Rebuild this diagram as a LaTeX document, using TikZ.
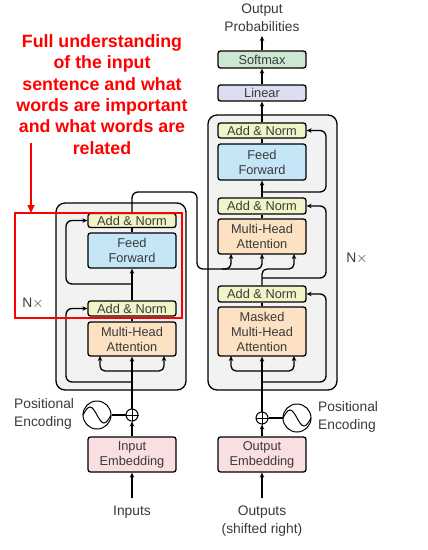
\documentclass[tikz,border=0pt]{standalone}
\usepackage{fontspec}
\setmainfont{Liberation Sans}
\usetikzlibrary{arrows.meta}
\definecolor{txt}{HTML}{3A3A3A}
\definecolor{addc}{HTML}{F1F4C6}
\definecolor{ffc}{HTML}{C5E6F6}
\definecolor{attc}{HTML}{FCE1C2}
\definecolor{linc}{HTML}{DCDDF1}
\definecolor{softc}{HTML}{CCE8D2}
\definecolor{embc}{HTML}{FADFE2}
\definecolor{layc}{HTML}{F2F2F2}
\definecolor{annred}{HTML}{FF0000}
\tikzset{
  blk/.style={draw=black, line width=1.3pt, rounded corners=2.5pt, minimum width=88pt,
    inner sep=0pt, align=center, text=txt, font=\fontsize{12.8}{15}\selectfont},
  lay/.style={draw=black, line width=1.3pt, rounded corners=9pt, fill=layc},
  conn/.style={line width=1.3pt, draw=black},
  arr/.style={conn, -{Stealth[length=5pt,width=4.5pt]}},
  lbl/.style={text=txt, font=\fontsize{13.8}{17.5}\selectfont, inner sep=0pt},
  plusc/.style={draw=black, line width=1pt, circle, minimum size=12pt, inner sep=0pt},
  sinc/.style={draw=black, line width=1pt, circle, minimum size=28pt, inner sep=0pt},
  redtxt/.style={font=\fontsize{17.8}{21.3}\selectfont\bfseries, align=center, inner sep=0pt}
}
\begin{document}
\begin{tikzpicture}[x=1pt,y=-1pt]
\useasboundingbox (0,0) rectangle (428,550);
\fill[white] (0,0) rectangle (428,550);

% layer boxes
\draw[lay] (56,203) rectangle (186,390);
\draw[lay] (208,115) rectangle (337,390);

% ---------- encoder ----------
\node[blk, fill=addc, minimum height=14pt] (eaddT) at (132,220.5) {Add \& Norm};
\node[blk, fill=ffc, minimum height=35pt] (eff) at (132,250.5) {Feed\\Forward};
\node[blk, fill=addc, minimum height=15pt] (eaddB) at (132,308.5) {Add \& Norm};
\node[blk, fill=attc, minimum height=34pt] (emha) at (132,339) {Multi-Head\\Attention};
\node[blk, fill=embc, minimum height=35pt] (ein) at (132,454.5) {Input\\Embedding};
\node[plusc] (eplus) at (132,415) {};
\draw[line width=1pt] (eplus.north) -- (eplus.south) (eplus.west) -- (eplus.east);
\node[sinc] (esin) at (97,415) {};
\draw[line width=1pt] (83,415) sin (90,407) cos (97,415) sin (104,423) cos (111,415);
\draw[conn] (esin.east) -- (eplus.west);
\node[lbl, anchor=west, align=left] (epos) at (14,414) {Positional\\Encoding};
\node[lbl] (einp) at (132,512) {Inputs};
\node[lbl] (enx) at (33,303) {N$\times$};

\coordinate (einpt) at (132,498);
\draw[arr] (einpt) -- (ein.south);
\draw[arr] (ein.north) -- (eplus.south);
\coordinate (eq) at (100,356);
\coordinate (ev) at (164,356);
\draw[arr] (eplus.north) -- (emha.south);
\draw[arr, rounded corners=5pt] (132,371) -- (100,371) -- (eq);
\draw[arr, rounded corners=5pt] (132,371) -- (164,371) -- (ev);
\draw[arr, rounded corners=6pt] (132,382) -- (66,382) -- (66,308.5) -- (eaddB.west);
\draw[conn] (emha.north) -- (eaddB.south);
\draw[arr] (eaddB.north) -- (eff.south);
\draw[arr, rounded corners=6pt] (132,284) -- (66,284) -- (66,220.5) -- (eaddT.west);
\draw[conn] (eff.north) -- (eaddT.south);

% ---------- decoder ----------
\node[blk, fill=softc, minimum height=17pt] (soft) at (262,59.5) {Softmax};
\node[blk, fill=linc, minimum height=16pt] (lin) at (262,93) {Linear};
\node[blk, fill=addc, minimum height=15pt] (daddT) at (262,130.5) {Add \& Norm};
\node[blk, fill=ffc, minimum height=36pt] (dff) at (262,162) {Feed\\Forward};
\node[blk, fill=addc, minimum height=16pt] (daddM) at (262,206) {Add \& Norm};
\node[blk, fill=attc, minimum height=35pt] (dmha) at (262,236.5) {Multi-Head\\Attention};
\node[blk, fill=addc, minimum height=16pt] (daddB) at (262,294) {Add \& Norm};
\node[blk, fill=attc, minimum height=49pt] (dmmha) at (262,331.5) {Masked\\Multi-Head\\Attention};
\node[blk, fill=embc, minimum height=35pt] (dout) at (262,454.5) {Output\\Embedding};
\node[plusc] (dplus) at (262,418) {};
\draw[line width=1pt] (dplus.north) -- (dplus.south) (dplus.west) -- (dplus.east);
\node[sinc] (dsin) at (297,418) {};
\draw[line width=1pt] (283,418) sin (290,410) cos (297,418) sin (304,426) cos (311,418);
\draw[conn] (dplus.east) -- (dsin.west);
\node[lbl, anchor=west, align=left] (dpos) at (318,417) {Positional\\Encoding};
\node[lbl, align=center] (doutl) at (262,521) {Outputs\\(shifted right)};
\node[lbl, align=center] (dprob) at (262,17.5) {Output\\Probabilities};
\node[lbl] (dnx) at (357,258) {N$\times$};

\coordinate (doutpt) at (262,498);
\draw[arr] (doutpt) -- (dout.south);
\draw[arr] (dout.north) -- (dplus.south);
\draw[arr] (dplus.north) -- (dmmha.south);
\coordinate (dmq) at (231,356);
\coordinate (dmv) at (294,356);
\draw[arr, rounded corners=5pt] (262,371) -- (231,371) -- (dmq);
\draw[arr, rounded corners=5pt] (262,371) -- (294,371) -- (dmv);
\draw[arr, rounded corners=6pt] (262,382) -- (326,382) -- (326,294) -- (daddB.east);
\draw[conn] (dmmha.north) -- (daddB.south);
\coordinate (dk) at (231,254);
\coordinate (dv) at (262,254);
\coordinate (dq) at (294,254);
\draw[arr, rounded corners=5pt] (daddB.north) -- (262,269) -- (294,269) -- (dq);
\draw[arr, rounded corners=6pt] (262,278) -- (326,278) -- (326,206) -- (daddM.east);
\draw[conn] (dmha.north) -- (daddM.south);
\draw[arr] (daddM.north) -- (dff.south);
\draw[arr, rounded corners=6pt] (262,192) -- (326,192) -- (326,130.5) -- (daddT.east);
\draw[conn] (dff.north) -- (daddT.south);
\draw[arr] (daddT.north) -- (lin.south);
\draw[arr] (lin.north) -- (soft.south);
\coordinate (dprobpt) at (262,36);
\draw[arr] (soft.north) -- (dprobpt);

% encoder -> decoder
\draw[arr, rounded corners=6pt] (eaddT.north) -- (132,192) -- (197,192) -- (197,269) -- (231,269) -- (dk);
\draw[arr, rounded corners=5pt] (222,269) -- (262,269) -- (dv);

% ---------- annotation ----------
\node[redtxt, text=annred] (ann) at (102,94.5) {Full understanding\\of the input\\sentence and what\\words are important\\and what words are\\related};
\coordinate (annstart) at (31,143);
\draw[annred, line width=1.5pt, -{Triangle[length=8pt,width=7pt]}] (annstart) -- (31,213);
\draw[annred, line width=2pt] (15,213) rectangle (182,318);
\end{tikzpicture}
\end{document}
